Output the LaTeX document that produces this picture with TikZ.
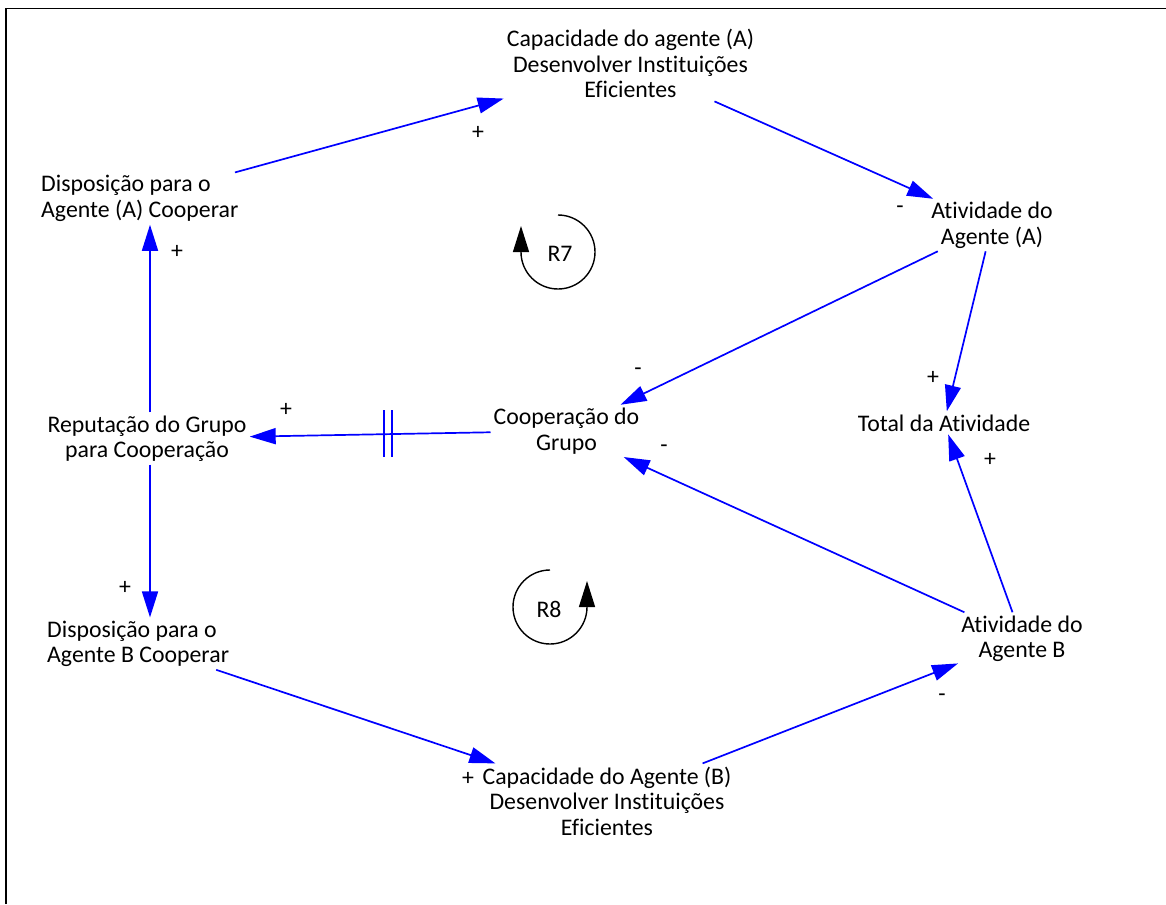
\documentclass[tikz,border=0pt]{standalone}
\usepackage{fontspec}
\setmainfont{Carlito}[Ligatures={NoCommon,NoContextual}]
\usetikzlibrary{arrows.meta}
\begin{document}
\begin{tikzpicture}[x=1pt,y=-1pt,
  txt/.style={font=\fontsize{23.8}{25.5}\selectfont},
  var/.style={txt, inner sep=3pt, align=center, anchor=base},
  varl/.style={var, align=left, anchor=base west},
  sign/.style={txt, inner sep=0pt},
  link/.style={draw=blue, line width=1.7pt, -{Triangle[length=26pt,width=16pt]}},
  hash/.style={draw=blue, line width=1.7pt},
  loopline/.style={draw=black, line width=1.4pt, -{Triangle[length=26pt,width=16pt]}}]
\useasboundingbox (0,0) rectangle (1166,904);
% frame (left and top edges)
\draw[line width=1.5pt, line join=miter] (6,904) -- (6,8.5) -- (1166,8.5);

% variables (placed by the baseline of their last line)
\node[var]  (capA)  at (630.5,98) {Capacidade do agente (A)\\Desenvolver Instituições\\Eficientes};
\node[varl] (dispA) at (38,217.5) {Disposição para o\\Agente (A) Cooperar};
\node[var]  (ativA) at (992,244)  {Atividade do\\Agente (A)};
\node[var]  (total) at (944,431)  {Total da Atividade};
\node[var]  (coop)  at (566.5,450) {Cooperação do\\Grupo};
\node[var]  (reput) at (147,457.5) {Reputação do Grupo\\para Cooperação};
\node[varl] (dispB) at (44,662.5) {Disposição para o\\Agente B Cooperar};
\node[var]  (ativB) at (1022,657.5) {Atividade do\\Agente B};
\node[var]  (capB)  at (607,835)  {Capacidade do Agente (B)\\Desenvolver Instituições\\Eficientes};

% causal links
\draw[link] (dispA) -- (capA);
\draw[link] (capA) -- (ativA);
\draw[link] (ativA) -- (coop);
\draw[link] (ativA) -- (total);
\draw[link] (coop) -- (reput);
\draw[link] ([xshift=3pt]reput.north) -- ([xshift=3pt]reput.north |- dispA.south);
\draw[link] ([xshift=3pt]reput.south) -- ([xshift=3pt]reput.south |- dispB.north);
\draw[link] (dispB) -- (capB);
\draw[link] (capB) -- (ativB);
\draw[link] (ativB) -- (coop);
\draw[link] (ativB) -- (total);

% delay mark on the cooperation link
\path (coop) -- (reput) coordinate[pos=0.427] (hp);
\draw[hash] ([xshift=-4pt]hp) ++(0,-24) -- ++(0,47);
\draw[hash] ([xshift=4pt]hp) ++(0,-24) -- ++(0,47);

% polarities
\node[sign] (s1)  at (478,133) {+};
\node[sign] (s2)  at (900,210) {-};
\node[sign] (s3)  at (638,372) {-};
\node[sign] (s4)  at (933,378) {+};
\node[sign] (s5)  at (286,410) {+};
\node[sign] (s6)  at (177,252) {+};
\node[sign] (s7)  at (125,588) {+};
\node[sign] (s8)  at (468,779) {+};
\node[sign] (s9)  at (942,698) {-};
\node[sign] (s10) at (664,449) {-};
\node[sign] (s11) at (990,460) {+};

% loop markers
\draw[loopline] (558,215) arc[start angle=-90, end angle=180, radius=37] -- ++(0,-26);
\node[txt] (r7) at (560,254) {R7};
\draw[loopline] (550,570) arc[start angle=-90, end angle=-360, radius=37] -- ++(0,-26);
\node[txt] (r8) at (549,609) {R8};
\end{tikzpicture}
\end{document}
